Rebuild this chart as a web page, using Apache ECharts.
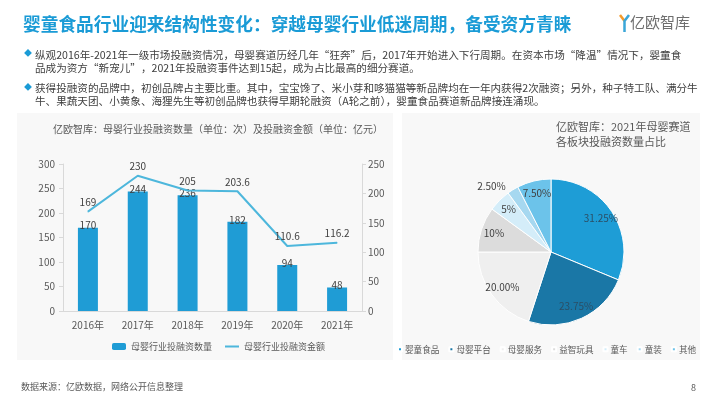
<!DOCTYPE html>
<html lang="zh">
<head>
<meta charset="UTF-8" />
<title>婴童食品行业</title>
<script src="https://cdn.jsdelivr.net/npm/echarts@6/dist/echarts.min.js"></script>
<style>
  html, body { margin: 0; padding: 0; background: #fff; }
  .echarts { width: 710px; height: 399px; }
</style>
</head>
<body>
<div class="echarts"></div>
<script>
  // 左图：投融资数量 / 金额
  const years = ['2016年', '2017年', '2018年', '2019年', '2020年', '2021年']
  const dealCount = [170, 244, 236, 182, 94, 48]
  const dealAmount = [169, 230, 205, 203.6, 110.6, 116.2]

  // 右图：2021年各板块占比
  const sectors = ['婴童食品', '母婴平台', '母婴服务', '益智玩具', '童车', '童装', '其他']
  const sectorShare = [31.25, 23.75, 20.00, 10, 5, 2.5, 7.5]
  const shareLabels = ['31.25%', '23.75%', '20.00%', '10%', '5%', '2.50%', '7.50%']
  const sectorColors = ['#1e9dd6', '#1a77a6', '#efefef', '#dcdcdc', '#d4edf9', '#a6d8f0', '#6cc3ea']

  const font = '"Noto Sans CJK SC", "Noto Sans", sans-serif'
  const textGrey = '#595959'
  const blue = '#1a9bd6'

  const bullet1 = '纵观2016年-2021年一级市场投融资情况，母婴赛道历经几年“狂奔”后，2017年开始进入下行周期。在资本市场“降温”情况下，婴童食\n' +
    '品成为资方“新宠儿”，2021年投融资事件达到15起，成为占比最高的细分赛道。'
  const bullet2 = '获得投融资的品牌中，初创品牌占主要比重。其中，宝宝馋了、米小芽和哆猫猫等新品牌均在一年内获得2次融资；另外，种子特工队、满分牛\n' +
    '牛、果蔬天团、小黄象、海狸先生等初创品牌也获得早期轮融资（A轮之前），婴童食品赛道新品牌接连涌现。'

  const myCharts = echarts.init(document.querySelector('.echarts'))

  const option = {
    backgroundColor: '#fff',
    textStyle: { fontFamily: font },
    animation: false,

    graphic: [
      // 两块浅灰底板
      { type: 'rect', z: -10, shape: { x: 17, y: 113, width: 376, height: 247 }, style: { fill: '#f8f8f8' } },
      { type: 'rect', z: -10, shape: { x: 402, y: 113, width: 298, height: 247 }, style: { fill: '#f8f8f8' } },

      // 页面标题
      { type: 'text', left: 23, top: 15, style: { text: '婴童食品行业迎来结构性变化：穿越母婴行业低迷周期，备受资方青睐', fill: blue, font: 'bold 17.7px ' + font } },

      // logo
      { type: 'polyline', shape: { points: [[620, 15], [624.5, 21]] }, style: { stroke: '#f39a2b', lineWidth: 2.5, fill: null } },
      { type: 'polyline', shape: { points: [[629, 15], [624.5, 21], [624.5, 32]] }, style: { stroke: '#3aa6d8', lineWidth: 2.5, fill: null } },
      { type: 'text', left: 630, top: 15, style: { text: '亿欧智库', fill: '#6e6e6e', font: '15px ' + font } },

      // 说明文字
      { type: 'text', left: 24, top: 49, style: { text: '◆', fill: blue, font: '8px ' + font } },
      { type: 'text', left: 35, top: 48, style: { text: bullet1, fill: '#404040', font: '10.6px ' + font, lineHeight: 13 } },
      { type: 'text', left: 24, top: 83, style: { text: '◆', fill: blue, font: '8px ' + font } },
      { type: 'text', left: 35, top: 82, style: { text: bullet2, fill: '#404040', font: '10.6px ' + font, lineHeight: 12.5 } },

      // 左图标题
      { type: 'text', left: 53, top: 124, style: { text: '亿欧智库：母婴行业投融资数量（单位：次）及投融资金额（单位：亿元）', fill: textGrey, font: '10px ' + font } },

      // 右图标题
      { type: 'text', left: 556, top: 119, style: { text: '亿欧智库：2021年母婴赛道\n各板块投融资数量占比', fill: textGrey, font: '11px ' + font, align: 'center', lineHeight: 15 } },

      // 底部
      { type: 'text', left: 21, top: 382, style: { text: '数据来源：亿欧数据，网络公开信息整理', fill: textGrey, font: '9px ' + font } },
      { type: 'text', left: 691, top: 383, style: { text: '8', fill: textGrey, font: '9px ' + font } }
    ],

    grid: { left: 63, right: 348, top: 164, bottom: 88 },

    legend: [
      {
        data: [
          { name: '母婴行业投融资数量' },
          { name: '母婴行业投融资金额', itemStyle: { opacity: 0 } }
        ],
        left: 107,
        top: 337,
        itemWidth: 14,
        itemHeight: 7,
        itemGap: 12,
        textStyle: { fontSize: 9, color: textGrey, fontFamily: font }
      },
      {
        data: sectors,
        left: 392,
        top: 340,
        width: 318,
        icon: 'rect',
        itemWidth: 4,
        itemHeight: 4,
        itemGap: 9,
        textStyle: { fontSize: 8.6, color: textGrey, fontFamily: font, padding: [0, 0, 0, -2] }
      }
    ],

    xAxis: {
      type: 'category',
      data: years,
      axisLine: { lineStyle: { color: '#d9d9d9' } },
      axisTick: { show: false },
      axisLabel: { fontSize: 10, color: textGrey, margin: 9 }
    },

    yAxis: [
      {
        type: 'value',
        min: 0,
        max: 300,
        interval: 50,
        axisLine: { show: true, lineStyle: { color: '#d9d9d9' } },
        axisTick: { show: true, length: 4, lineStyle: { color: '#d9d9d9' } },
        splitLine: { show: false },
        axisLabel: { fontSize: 10, color: textGrey, margin: 8 }
      },
      {
        type: 'value',
        min: 0,
        max: 250,
        interval: 50,
        position: 'right',
        axisLine: { show: true, lineStyle: { color: '#d9d9d9' } },
        axisTick: { show: true, length: 4, lineStyle: { color: '#d9d9d9' } },
        splitLine: { show: false },
        axisLabel: { fontSize: 10, color: textGrey, margin: 6 }
      }
    ],

    series: [
      {
        name: '母婴行业投融资数量',
        type: 'bar',
        data: dealCount,
        barWidth: 20,
        itemStyle: { color: '#1f9cd5' },
        label: { show: true, position: 'top', distance: -3, fontSize: 10, color: '#404040' }
      },
      {
        name: '母婴行业投融资金额',
        type: 'line',
        yAxisIndex: 1,
        data: dealAmount,
        symbol: 'circle',
        symbolSize: 1,
        itemStyle: { color: '#4db7dc' },
        lineStyle: { color: '#4db7dc', width: 2 },
        label: { show: true, position: 'top', distance: 4, fontSize: 10, color: '#404040' }
      },
      {
        name: '2021年母婴赛道',
        type: 'pie',
        center: [551, 252],
        radius: [0, 73],
        startAngle: 90,
        silent: true,
        label: { show: false },
        itemStyle: { borderColor: '#fff', borderWidth: 1 },
        data: sectors.map((name, i) => ({ name, value: sectorShare[i], itemStyle: { color: sectorColors[i] } }))
      },
      {
        // 只用来摆放百分比标签
        name: '占比标签',
        type: 'pie',
        center: [551, 252],
        radius: [41, 73],
        startAngle: 90,
        silent: true,
        z: 3,
        itemStyle: { color: 'rgba(0,0,0,0)', borderWidth: 0 },
        emphasis: { disabled: true },
        labelLine: { show: false, length: 4, length2: 0 },
        label: { show: true, position: 'inside', fontSize: 10, color: '#404040' },
        data: sectors.map((name, i) => ({
          name,
          value: sectorShare[i],
          label: Object.assign(
            { formatter: shareLabels[i] },
            i === 5 ? { position: 'outside' } : {},
            i === 0 || i === 1 ? { color: '#2b4f66' } : {}
          )
        }))
      }
    ]
  }
  myCharts.setOption(option)
</script>
</body>
</html>
